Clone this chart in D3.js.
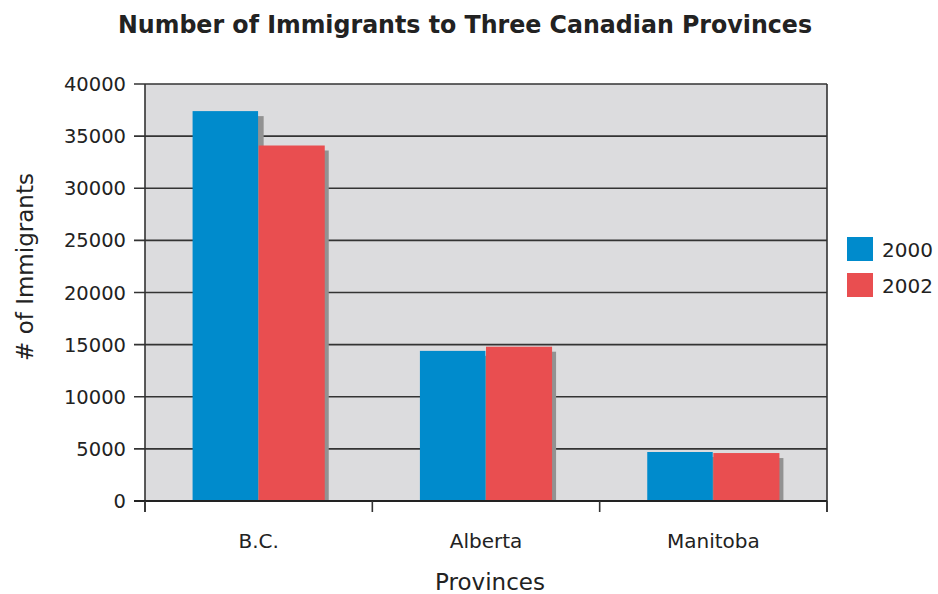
<!DOCTYPE html>
<html><head><meta charset="utf-8">
<script src="https://cdn.jsdelivr.net/npm/d3@7"></script>
<style>body{margin:0;background:#fff;} text{font-family:"DejaVu Sans",Verdana,sans-serif;fill:#222;}</style>
</head><body><svg id="c" width="938" height="594"></svg>
<script>
const categories = ["B.C.", "Alberta", "Manitoba"];
const seriesNames = ["2000", "2002"];
const values2000 = [37400, 14400, 4700];
const values2002 = [34100, 14800, 4600];
const yTicks = [0, 5000, 10000, 15000, 20000, 25000, 30000, 35000, 40000];
const colors = ["#008bcc", "#e94e50"];

const svg = d3.select("#c");
const L = 145, R = 827, T = 84, B = 501;
const x = d3.scaleBand().domain(categories).range([L, R]).paddingInner(0).paddingOuter(0);
const x1 = d3.scaleBand().domain(seriesNames).range([0, x.bandwidth()]).paddingInner(0).paddingOuter(0.72);
const y = d3.scaleLinear().domain([0, 40000]).range([B, T]);

svg.append("rect").attr("x", L).attr("y", T).attr("width", R - L).attr("height", B - T).attr("fill", "#dcdcde");

// gridlines
svg.append("g").selectAll("line").data(yTicks).join("line")
  .attr("x1", L - 11).attr("x2", R).attr("y1", d => y(d)).attr("y2", d => y(d))
  .attr("stroke", "#333").attr("stroke-width", 1.6);

const data = categories.map((c, i) => ({cat: c, vals: [values2000[i], values2002[i]]}));
const g = svg.append("g");
data.forEach(d => {
  d.vals.forEach((v, j) => {
    g.append("rect").attr("x", x(d.cat) + x1(seriesNames[j]) + 5).attr("y", y(v) + 5)
      .attr("width", x1.bandwidth() - (j === 1 ? 1 : 0)).attr("height", B - y(v) - 5).attr("fill", "#929292");
  });
  d.vals.forEach((v, j) => {
    g.append("rect").attr("x", x(d.cat) + x1(seriesNames[j])).attr("y", y(v))
      .attr("width", x1.bandwidth() - (j === 0 ? 0.6 : 0)).attr("height", B - y(v)).attr("fill", colors[j]);
  });
});

// axes lines
svg.append("line").attr("x1", L).attr("x2", L).attr("y1", T).attr("y2", B + 11).attr("stroke", "#333").attr("stroke-width", 1.6);
svg.append("line").attr("x1", R).attr("x2", R).attr("y1", T).attr("y2", B + 11).attr("stroke", "#333").attr("stroke-width", 1.6);
svg.append("line").attr("x1", L - 11).attr("x2", R).attr("y1", B).attr("y2", B).attr("stroke", "#222").attr("stroke-width", 2);
// x ticks at category boundaries
const bounds = categories.map(c => x(c)).concat([R]);
svg.append("g").selectAll("line").data(bounds).join("line")
  .attr("x1", d => d).attr("x2", d => d).attr("y1", B).attr("y2", B + 11)
  .attr("stroke", "#333").attr("stroke-width", 1.6);

// y tick labels
svg.append("g").selectAll("text").data(yTicks).join("text")
  .attr("x", L - 19).attr("y", d => y(d) + 7).attr("text-anchor", "end")
  .attr("font-size", 19.5).text(d => d);

// category labels
svg.append("g").selectAll("text").data(categories).join("text")
  .attr("x", d => x(d) + x.bandwidth() / 2).attr("y", 548).attr("text-anchor", "middle")
  .attr("font-size", 20).text(d => d);

svg.append("text").attr("x", 490).attr("y", 590).attr("text-anchor", "middle").attr("font-size", 23).text("Provinces");
svg.append("text").attr("transform", "translate(33,267) rotate(-90)").attr("text-anchor", "middle").attr("font-size", 23).text("# of Immigrants");

svg.append("text").attr("x", 465).attr("y", 33).attr("text-anchor", "middle").attr("font-size", 24)
  .attr("font-weight", "bold").style("font-family", "'DejaVu Sans Condensed','DejaVu Sans',sans-serif")
  .attr("textLength", 694).attr("lengthAdjust", "spacingAndGlyphs")
  .text("Number of Immigrants to Three Canadian Provinces");

// legend
const lg = svg.append("g");
seriesNames.forEach((s, i) => {
  lg.append("rect").attr("x", 847).attr("y", 237 + i * 36).attr("width", 26).attr("height", 24).attr("fill", colors[i]);
  lg.append("text").attr("x", 882).attr("y", 257 + i * 36).attr("font-size", 20).text(s);
});
</script></body></html>
